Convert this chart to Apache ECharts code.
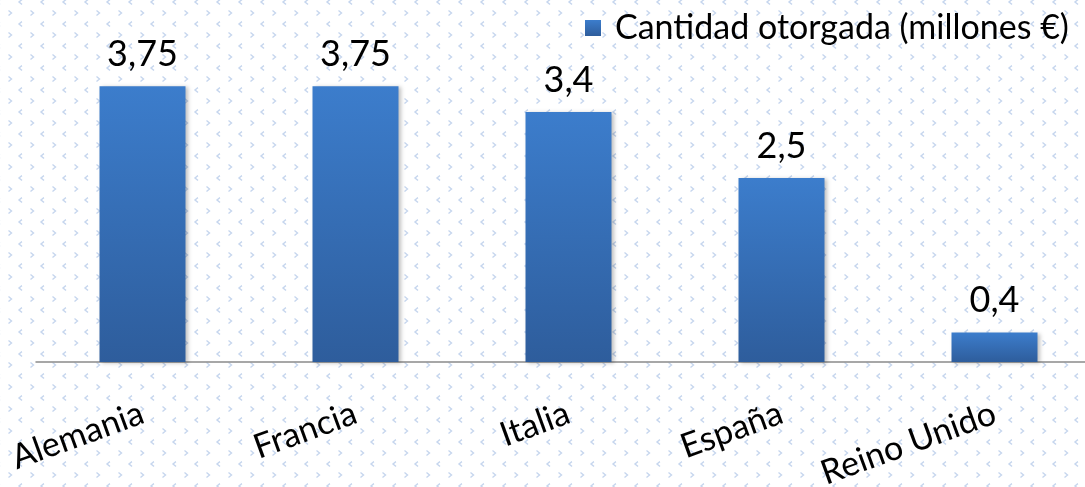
<!DOCTYPE html>
<html>
<head>
<meta charset="utf-8">
<script src="https://cdn.jsdelivr.net/npm/echarts@6/dist/echarts.min.js"></script>
<style>
  html, body { margin: 0; padding: 0; overflow: hidden; }
  #chart { width: 1085px; height: 487px; }
</style>
</head>
<body>
<div id="chart"></div>
<script>
const countries = ['Alemania', 'Francia', 'Italia', 'España', 'Reino Unido'];
const amounts = [3.75, 3.75, 3.4, 2.5, 0.4];
const seriesName = 'Cantidad otorgada (millones €)';

const FONT = 'Lato, "Open Sans", sans-serif';

// Build the faint chevron background tile
function makePattern() {
  const tile = document.createElement('canvas');
  tile.width = 22;
  tile.height = 22;
  const ctx = tile.getContext('2d');
  ctx.strokeStyle = '#c6d6ee';
  ctx.lineWidth = 1.4;
  // ">" chevron
  ctx.beginPath();
  ctx.moveTo(8.5, 10.5);
  ctx.lineTo(11.5, 13);
  ctx.lineTo(8.5, 15.5);
  ctx.stroke();
  // "<" chevron, split over the tile corners
  ctx.beginPath();
  ctx.moveTo(22, -0.5);
  ctx.lineTo(19, 2);
  ctx.lineTo(22, 4.5);
  ctx.moveTo(0, -0.5);
  ctx.lineTo(-3, 2);
  ctx.lineTo(0, 4.5);
  ctx.stroke();
  ctx.beginPath();
  ctx.moveTo(22, 21.5);
  ctx.lineTo(19, 24);
  ctx.lineTo(22, 26.5);
  ctx.stroke();
  return tile.toDataURL();
}

const chartDom = document.getElementById('chart');
chartDom.style.background = `#ffffff url(${makePattern()}) repeat`;

const chart = echarts.init(chartDom, null, { renderer: 'canvas' });

const barColor = new echarts.graphic.LinearGradient(0, 0, 0, 1, [
  { offset: 0, color: '#3c7dcc' },
  { offset: 1, color: '#2e5d9c' },
]);

const option = {
  backgroundColor: 'transparent',
  animation: false,
  legend: {
    left: 580,
    top: 6,
    icon: 'rect',
    itemWidth: 16,
    itemHeight: 16,
    itemGap: 6,
    textStyle: {
      fontFamily: FONT,
      fontSize: 34,
      color: '#000',
      padding: [0, 0, 0, 9],
    },
    data: [seriesName],
  },
  grid: {
    left: 36,
    top: 31,
    width: 1065,
    bottom: 125,
    outerBoundsMode: 'none',
    containLabel: false,
  },
  xAxis: {
    type: 'category',
    data: countries,
    axisLine: { lineStyle: { color: '#8a8a8a', width: 1.5 } },
    axisTick: { show: false },
    axisLabel: {
      rotate: 20,
      margin: 50,
      fontFamily: FONT,
      fontSize: 34,
      color: '#000',
    },
  },
  yAxis: {
    type: 'value',
    min: 0,
    max: 4.5,
    show: false,
    splitLine: { show: false },
  },
  series: [
    {
      name: seriesName,
      type: 'bar',
      data: amounts,
      barWidth: 86,
      itemStyle: {
        color: barColor,
        shadowColor: 'rgba(0,0,0,0.25)',
        shadowBlur: 4,
        shadowOffsetX: 2,
        shadowOffsetY: 1,
      },
      label: {
        show: true,
        position: 'top',
        distance: 14,
        fontFamily: FONT,
        fontSize: 36,
        color: '#000',
        formatter: (p) => String(p.value).replace('.', ','),
      },
    },
  ],
};

chart.setOption(option);
</script>
</body>
</html>
